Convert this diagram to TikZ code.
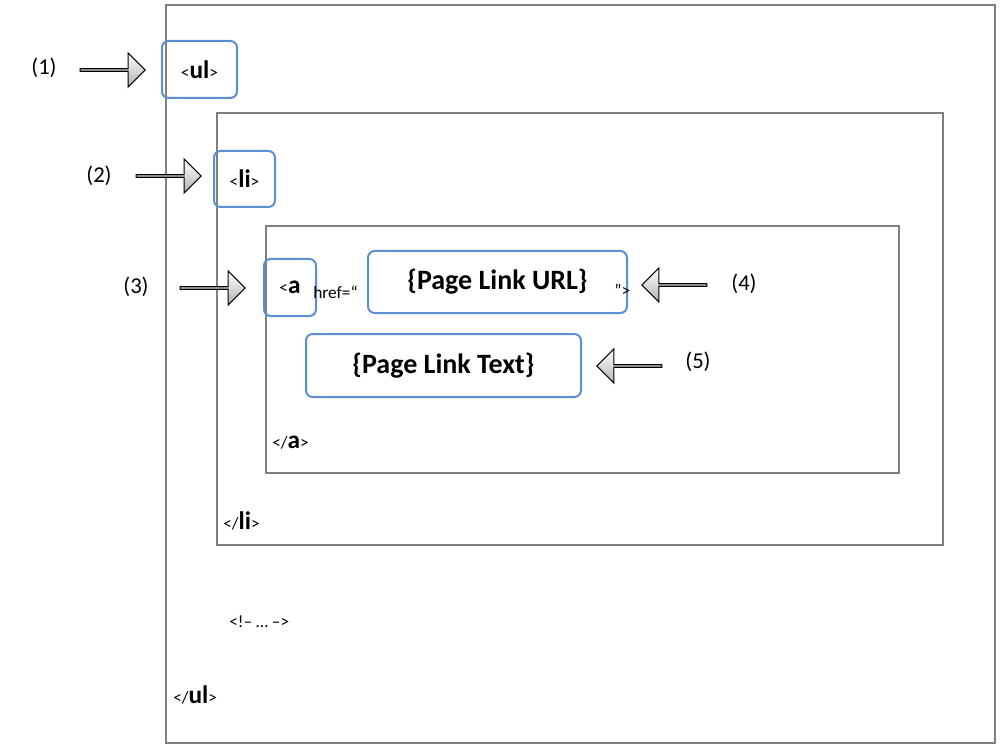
\documentclass[tikz,border=0pt]{standalone}
\usepackage{fontspec}
\setmainfont{Carlito}
\usetikzlibrary{shapes.arrows}
\newcommand{\sm}[1]{{\fontsize{13}{13}\selectfont #1}}
\newcommand{\bg}[1]{{\fontsize{19}{19}\selectfont\bfseries #1}}
\definecolor{tagblue}{RGB}{91,142,210}
\definecolor{boxgray}{RGB}{128,128,128}
\begin{document}
\begin{tikzpicture}[x=0.75pt,y=-0.75pt,
  frame/.style={draw=boxgray,line width=1.5pt},
  tag/.style={draw=tagblue,line width=1.5pt,rounded corners=5pt,inner sep=0pt,anchor=north west},
  pointer/.style={single arrow,draw=black,line width=0.8pt,top color=white,bottom color=black!30,
    minimum height=65*0.75pt,minimum width=34*0.75pt,single arrow head extend=5pt,
    single arrow tip angle=90,inner sep=0pt},
  num/.style={font=\fontsize{17}{17}\selectfont}]

\useasboundingbox (0,0) rectangle (1004,756);

% nested element boxes
\draw[frame] (166,5) rectangle (995,743);
\draw[frame] (217,113) rectangle (943,545);
\draw[frame] (266,226) rectangle (899,473);

% highlighted tags
\node[tag,minimum width=75*0.75pt,minimum height=57*0.75pt] (ul) at (161,40) {\sm{<}\bg{ul}\sm{>}};
\node[tag,minimum width=61*0.75pt,minimum height=56*0.75pt] (li) at (213,150) {\sm{<}\bg{li}\sm{>}};
\node[tag,minimum width=52*0.75pt,minimum height=57*0.75pt] (a) at (263,258) {\hspace*{2pt}\sm{<}\bg{a}\hspace*{2pt}};
\node[tag,minimum width=259*0.75pt,minimum height=62*0.75pt] (url) at (367,250) {\fontsize{21}{21}\selectfont\bfseries\{Page Link URL\}};
\node[tag,minimum width=275*0.75pt,minimum height=63*0.75pt] (txt) at (305,333) {\fontsize{21}{21}\selectfont\bfseries\{Page Link Text\}};

% plain markup
\node[anchor=west,inner sep=0pt] (href) at (313,292) {\sm{href=“}};
\node[anchor=west,inner sep=0pt] (close) at (614,290) {\sm{”>}};
\node[anchor=west,inner sep=0pt] (enda) at (272,443) {\sm{</}\bg{a}\sm{>}};
\node[anchor=west,inner sep=0pt] (endli) at (223,521) {\sm{</}\bg{li}\sm{>}};
\node[anchor=west,inner sep=0pt] (cmt) at (229,622) {\sm{<!-- … -->}};
\node[anchor=west,inner sep=0pt] (endul) at (173,695) {\sm{</}\bg{ul}\sm{>}};

% numbered pointers
\node[pointer] (p1) at (112,70) {};
\node[pointer] (p2) at (168,176) {};
\node[pointer] (p3) at (212,288) {};
\node[pointer,shape border rotate=180] (p4) at (675,285) {};
\node[pointer,shape border rotate=180] (p5) at (630,366) {};

\node[num] (n1) at (44,68) {(1)};
\node[num] (n2) at (99,176) {(2)};
\node[num] (n3) at (136,287) {(3)};
\node[num] (n4) at (744,284) {(4)};
\node[num] (n5) at (698,362) {(5)};
\end{tikzpicture}
\end{document}
